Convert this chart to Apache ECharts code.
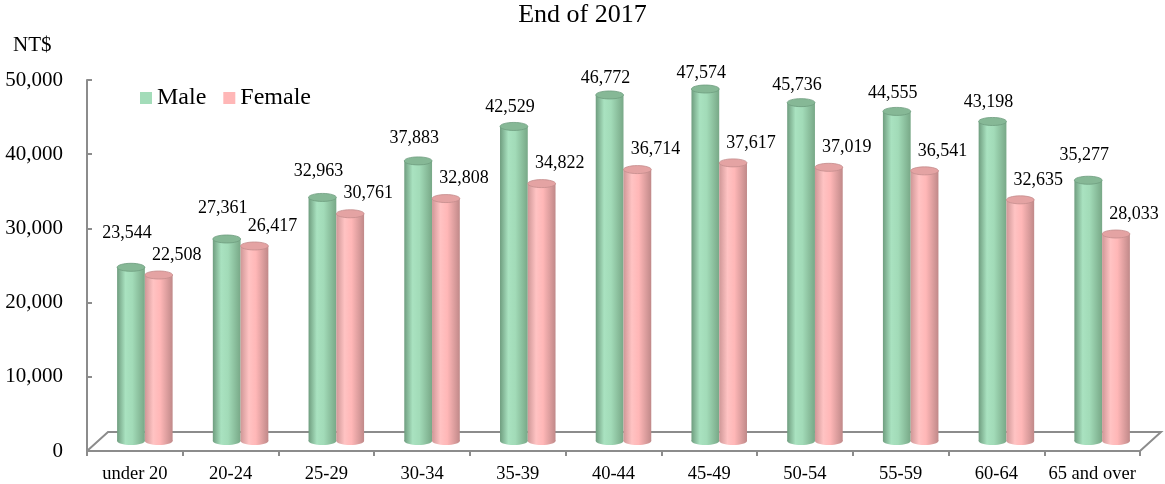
<!DOCTYPE html>
<html><head><meta charset="utf-8">
<script src="https://cdn.jsdelivr.net/npm/echarts@6/dist/echarts.min.js"></script>
<style>html,body{margin:0;padding:0;background:#fff}#c{width:1165px;height:484px}</style>
</head><body><div id="c"></div>
<script>
const categories = ['under 20','20-24','25-29','30-34','35-39','40-44','45-49','50-54','55-59','60-64','65 and over'];
const male = [23544,27361,32963,37883,42529,46772,47574,45736,44555,43198,35277];
const female = [22508,26417,30761,32808,34822,36714,37617,37019,36541,32635,28033];
const yTicks = [0,10000,20000,30000,40000,50000];

const FONT = '"Liberation Serif","Times New Roman",serif';
const DX = 10, DY = -9;
const G = echarts.graphic;
const styles = [
  {body:[[0,'#6f9d7f'],[0.3,'#a9e2c0'],[0.55,'#a2dbb8'],[1,'#78a887']], top:'#86b896', rim:'#6f9d7f'},
  {body:[[0,'#cf9797'],[0.3,'#ffc3c3'],[0.55,'#ffb7b7'],[1,'#c08989']], top:'#e4a3a3', rim:'#c48d8d'}
];
function fmt(v){return v.toLocaleString('en-US');}
function makeRender(s){
  return function(params, api){
    const i = api.value(0), v = api.value(1);
    const top = api.coord([i, v]);
    const base = api.coord([i, 0]);
    const band = api.size([1,0])[0];
    const w = band*0.29, rx = w/2, ry = 4;
    const cx = top[0] + DX + (s===0 ? -w/2 : w/2);
    const ty = top[1] + DY, by = base[1] + DY - 1;
    const st = styles[s];
    const grad = new G.LinearGradient(0,0,1,0, st.body.map(a=>({offset:a[0],color:a[1]})));
    let ly, lx;
    if (s===0){ lx = cx - 4; ly = ty - (51 - 0.00074*v); }
    else { lx = cx + 18; ly = ty - 20; }
    return {type:'group', children:[
      {type:'ellipse', shape:{cx:cx, cy:by, rx:rx, ry:ry}, style:{fill:grad}},
      {type:'rect', shape:{x:cx-rx, y:ty, width:w, height:by-ty}, style:{fill:grad}},
      {type:'ellipse', shape:{cx:cx, cy:ty, rx:rx, ry:ry}, style:{fill:st.top, stroke:st.rim, lineWidth:0.8}},
      {type:'text', x:lx, y:ly, style:{text:fmt(v), align:'center', verticalAlign:'middle', font:'18px '+FONT, fill:'#000'}}
    ]};
  };
}
function floorRender(params, api){
  const c = params.coordSys;
  const x = c.x, y = c.y + c.height, w = c.width;
  const dx = 21, dy = -19;
  return {type:'polyline', shape:{points:[[x,y],[x+dx,y+dy],[x+w+dx,y+dy],[x+w,y]]},
    style:{stroke:'#8c8c8c', lineWidth:2, fill:null}, z2:0};
}
const chart = echarts.init(document.getElementById('c'));
chart.setOption({
  animation:false,
  title:{text:'End of 2017', left:'center', top:-3, textStyle:{fontFamily:FONT, fontSize:26, fontWeight:'normal', color:'#000'}},
  graphic:[{type:'text', left:13, top:35, style:{text:'NT$', font:'21px '+FONT, fill:'#000'}}],
  legend:{left:135, top:81, itemWidth:12, itemHeight:12, itemGap:17, icon:'rect',
    textStyle:{fontFamily:FONT, fontSize:24, color:'#000'}, data:['Male','Female']},
  grid:{left:87, right:25, top:80, bottom:33},
  xAxis:{type:'category', data:categories, boundaryGap:true,
    axisLine:{lineStyle:{color:'#8c8c8c', width:2}},
    axisTick:{show:true, length:5, inside:false, interval:0, lineStyle:{color:'#8c8c8c', width:2}},
    axisLabel:{fontFamily:FONT, fontSize:18.5, color:'#000', margin:14, interval:0}},
  yAxis:{type:'value', min:0, max:50000, interval:10000,
    axisLine:{show:true, lineStyle:{color:'#8c8c8c', width:2}},
    axisTick:{show:true, inside:true, length:5, lineStyle:{color:'#8c8c8c', width:2}},
    splitLine:{show:false},
    axisLabel:{fontFamily:FONT, fontSize:21, color:'#000', margin:24, formatter:v=>fmt(v)}},
  series:[
    {type:'custom', name:'floor', renderItem:floorRender, data:[[0,0]], silent:true, z:1},
    {type:'custom', name:'Male', renderItem:makeRender(0), data:male.map((v,i)=>[i,v]), itemStyle:{color:'#a3dcb9'}, z:2},
    {type:'custom', name:'Female', renderItem:makeRender(1), data:female.map((v,i)=>[i,v]), itemStyle:{color:'#ffb7b7'}, z:2}
  ]
});
</script></body></html>
